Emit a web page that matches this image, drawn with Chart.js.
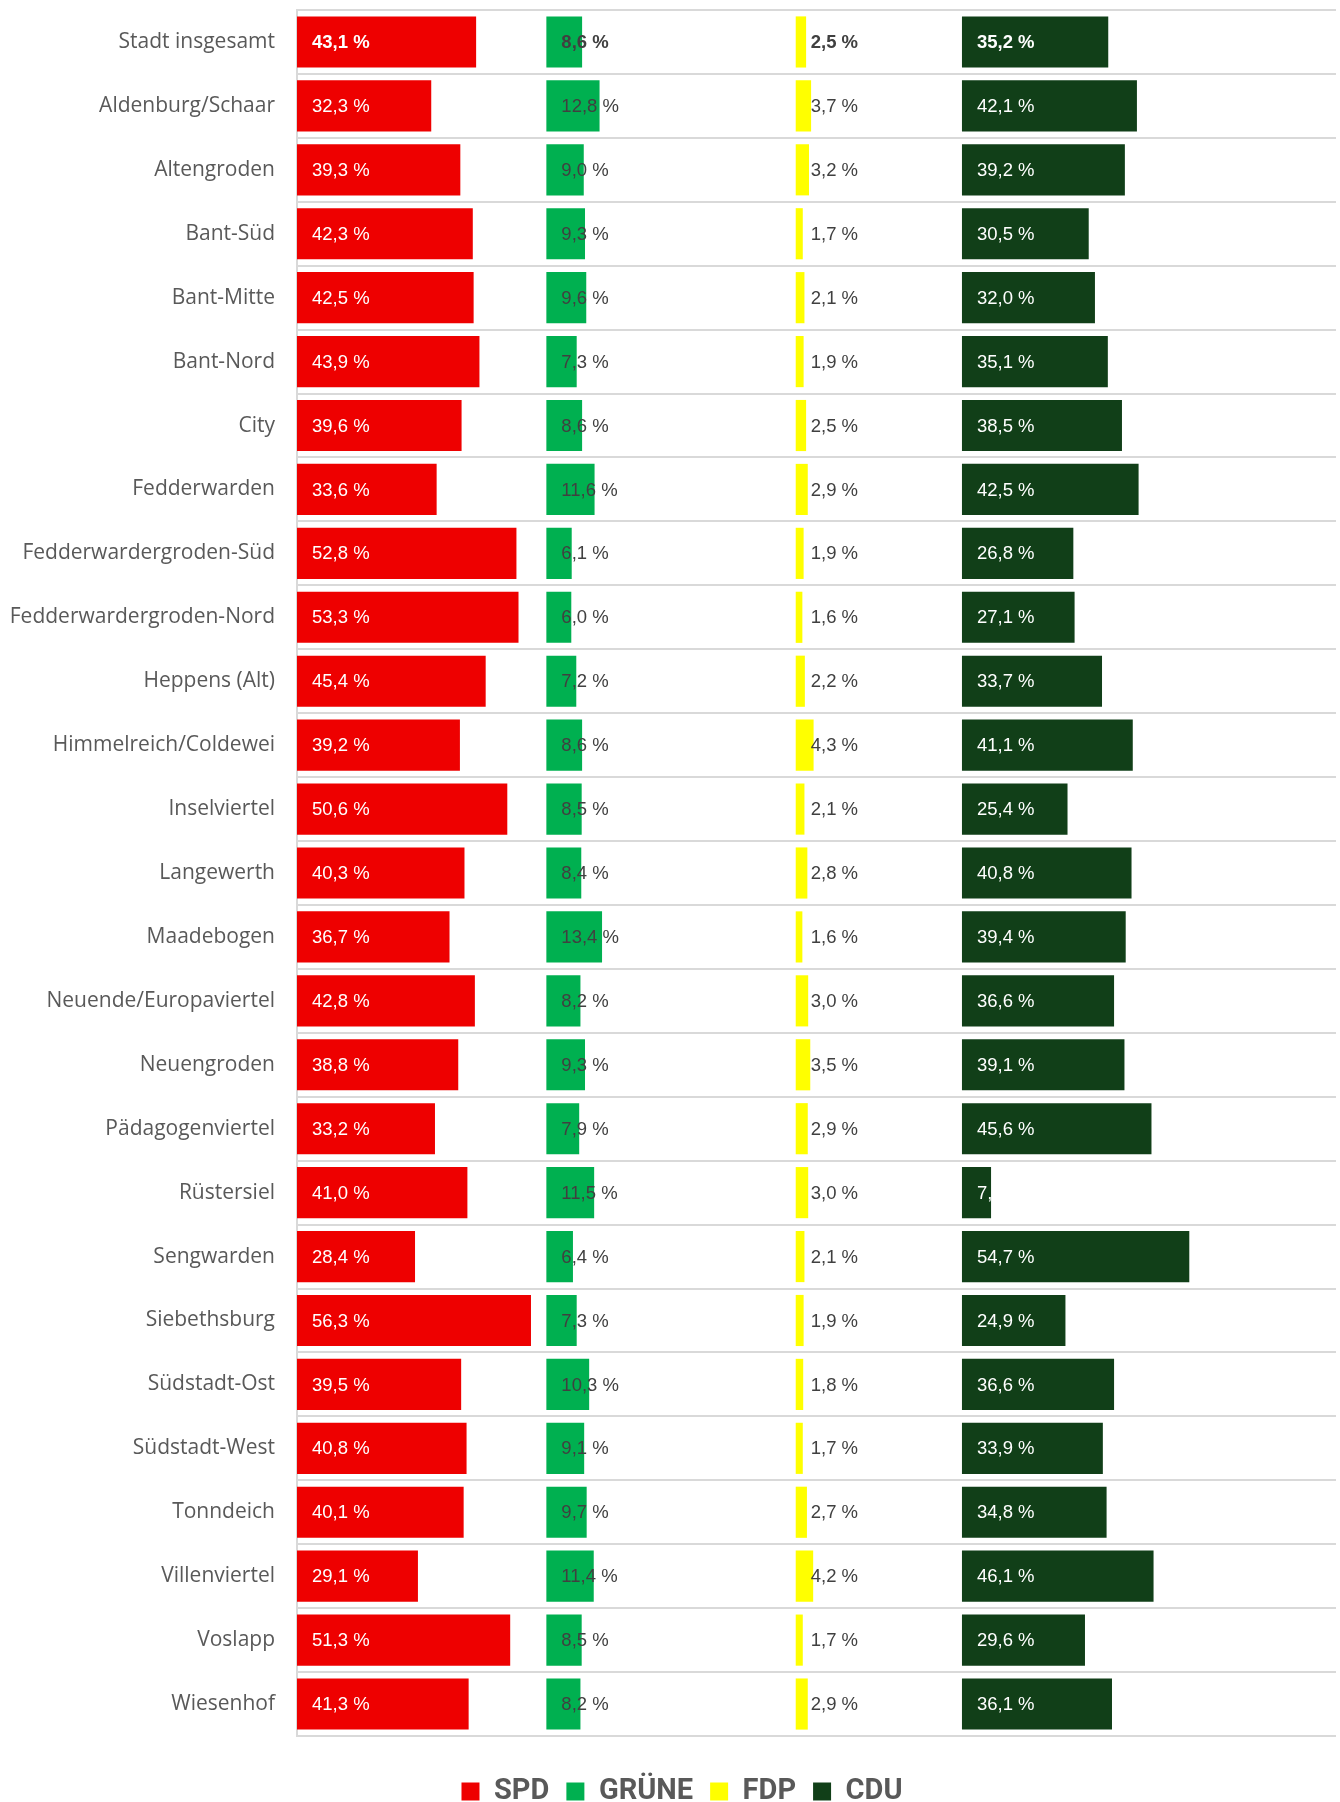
<!DOCTYPE html>
<html lang="de">
<head>
<meta charset="utf-8">
<script src="https://cdn.jsdelivr.net/npm/chart.js@4.4.1/dist/chart.umd.min.js"></script>
<style>
  html, body { margin: 0; padding: 0; background: #fff; overflow: hidden; }
  #wrap { position: relative; width: 1340px; height: 1816px; }
</style>
</head>
<body>
<div id="wrap"><canvas id="myChart"></canvas></div>
<script>
const categories = [
  'Stadt insgesamt', 'Aldenburg/Schaar', 'Altengroden', 'Bant-Süd', 'Bant-Mitte',
  'Bant-Nord', 'City', 'Fedderwarden', 'Fedderwardergroden-Süd', 'Fedderwardergroden-Nord',
  'Heppens (Alt)', 'Himmelreich/Coldewei', 'Inselviertel', 'Langewerth', 'Maadebogen',
  'Neuende/Europaviertel', 'Neuengroden', 'Pädagogenviertel', 'Rüstersiel', 'Sengwarden',
  'Siebethsburg', 'Südstadt-Ost', 'Südstadt-West', 'Tonndeich', 'Villenviertel',
  'Voslapp', 'Wiesenhof'
];
const spd    = [43.1, 32.3, 39.3, 42.3, 42.5, 43.9, 39.6, 33.6, 52.8, 53.3, 45.4, 39.2, 50.6, 40.3, 36.7, 42.8, 38.8, 33.2, 41.0, 28.4, 56.3, 39.5, 40.8, 40.1, 29.1, 51.3, 41.3];
const gruene = [8.6, 12.8, 9.0, 9.3, 9.6, 7.3, 8.6, 11.6, 6.1, 6.0, 7.2, 8.6, 8.5, 8.4, 13.4, 8.2, 9.3, 7.9, 11.5, 6.4, 7.3, 10.3, 9.1, 9.7, 11.4, 8.5, 8.2];
const fdp    = [2.5, 3.7, 3.2, 1.7, 2.1, 1.9, 2.5, 2.9, 1.9, 1.6, 2.2, 4.3, 2.1, 2.8, 1.6, 3.0, 3.5, 2.9, 3.0, 2.1, 1.9, 1.8, 1.7, 2.7, 4.2, 1.7, 2.9];
const cdu    = [35.2, 42.1, 39.2, 30.5, 32.0, 35.1, 38.5, 42.5, 26.8, 27.1, 33.7, 41.1, 25.4, 40.8, 39.4, 36.6, 39.1, 45.6, 7.0, 54.7, 24.9, 36.6, 33.9, 34.8, 46.1, 29.6, 36.1];

const parties = ['SPD', 'GRÜNE', 'FDP', 'CDU'];
const series = [spd, gruene, fdp, cdu];
const colors = ['#ee0000', '#00b050', '#ffff00', '#113f18'];
const labelColors = ['#ffffff', '#404040', '#404040', '#ffffff'];
// each party gets its own column on the x scale
const starts = [0, 60, 120, 160];

// values inside the bars, always at the bar start like in Excel ("inside base")
const barLabels = {
  id: 'barLabels',
  afterDatasetsDraw(chart) {
    const ctx = chart.ctx;
    ctx.save();
    ctx.textAlign = 'left';
    ctx.textBaseline = 'middle';
    chart.data.datasets.forEach((ds, i) => {
      chart.getDatasetMeta(i).data.forEach((bar, j) => {
        const v = series[i][j];
        ctx.font = (j === 0 ? 'bold ' : '') + '18.5px "Liberation Sans", Arial, sans-serif';
        ctx.fillStyle = labelColors[i];
        ctx.fillText(v.toFixed(1).replace('.', ',') + ' %', bar.base + 15, bar.y + 1);
      });
    });
    ctx.restore();
  }
};

// legend in the original sits a little right of the canvas centre
const legendNudge = {
  id: 'legendNudge',
  afterLayout(chart) {
    chart.legend.left += 14;
    chart.legend.right += 14;
  }
};

const myChart = new Chart(document.getElementById('myChart'), {
  type: 'bar',
  data: {
    labels: categories,
    datasets: parties.map((p, i) => ({
      label: p,
      data: series[i].map(v => [starts[i], starts[i] + v]),
      backgroundColor: colors[i],
      borderWidth: 0,
      barPercentage: 0.8,
      categoryPercentage: 1,
      grouped: false
    }))
  },
  options: {
    indexAxis: 'y',
    responsive: true,
    maintainAspectRatio: false,
    animation: false,
    layout: { padding: { top: 10, right: 4, left: 0, bottom: 0 } },
    scales: {
      x: {
        min: 0,
        max: 250,
        ticks: { display: false },
        grid: { display: false },
        border: { display: false },
        afterFit(scale) { scale.height = 24; }
      },
      y: {
        grid: { offset: true, color: '#d9d9d9', lineWidth: 2, drawTicks: false },
        border: { color: '#d9d9d9', width: 2 },
        ticks: {
          color: '#595959',
          padding: 22,
          font: { family: '"Open Sans", sans-serif', size: 21 }
        },
        afterFit(scale) {
          scale.width = 297;
          scale.paddingTop = 0;
          scale.paddingBottom = 0;
        }
      }
    },
    plugins: {
      legend: {
        position: 'bottom',
        labels: {
          color: '#595959',
          boxWidth: 18,
          boxHeight: 18,
          padding: 17,
          font: { family: 'Roboto, sans-serif', size: 29, weight: 'bold' }
        }
      },
      tooltip: { enabled: false }
    }
  },
  plugins: [barLabels, legendNudge]
});
</script>
</body>
</html>
